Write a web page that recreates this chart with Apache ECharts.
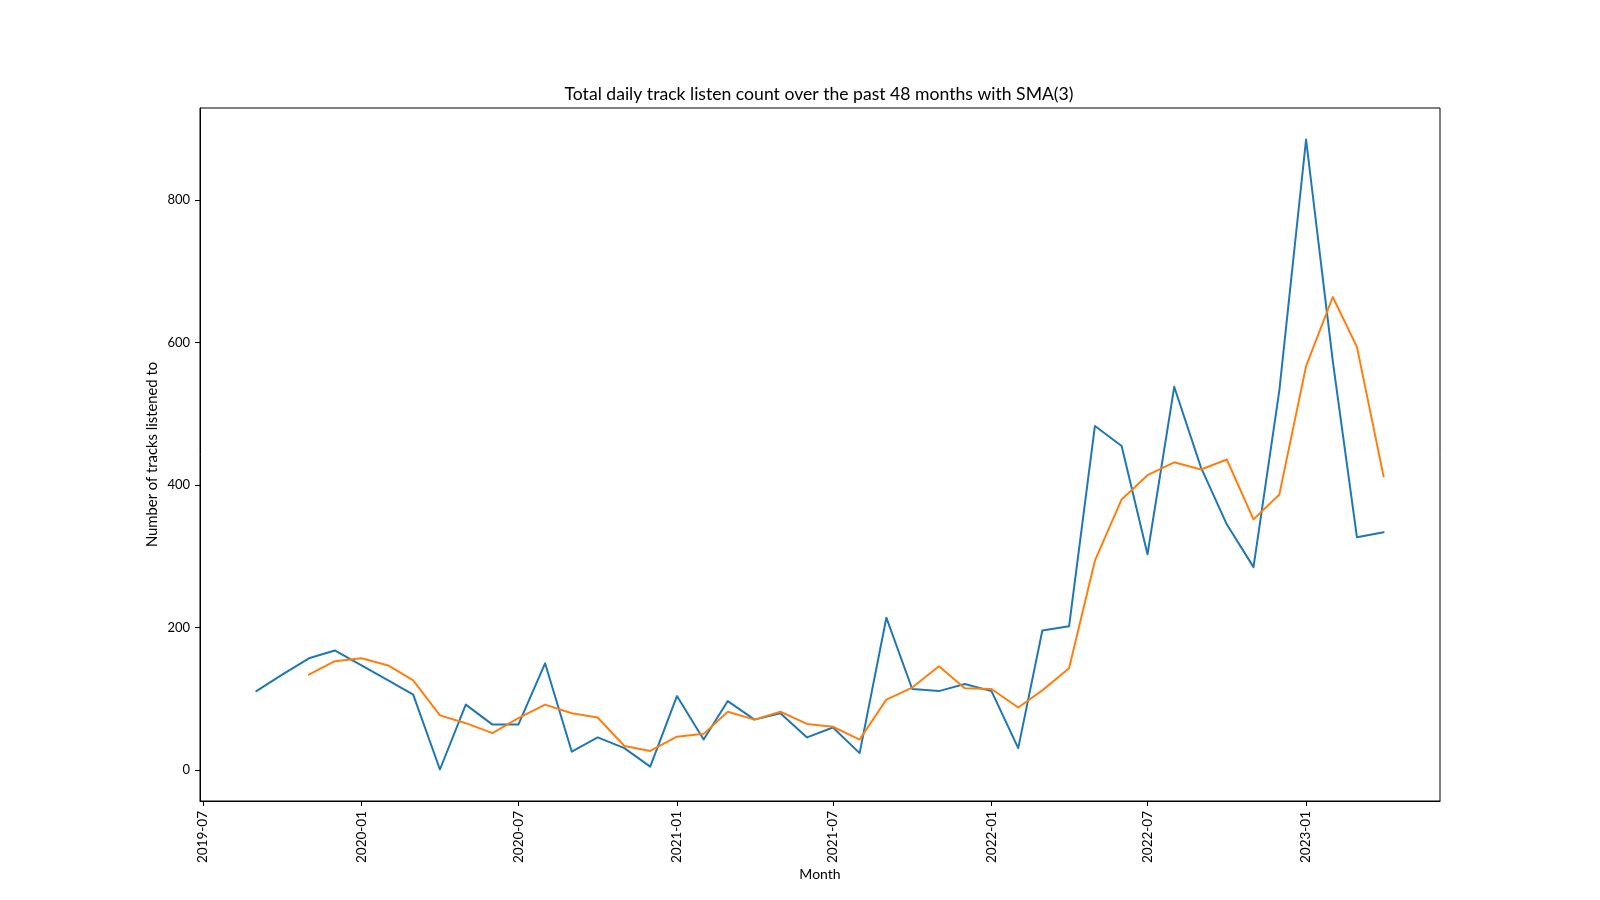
<!DOCTYPE html>
<html>
<head>
<meta charset="utf-8">
<script src="https://cdn.jsdelivr.net/npm/echarts@6/dist/echarts.min.js"></script>
<style>
  html, body { margin: 0; padding: 0; background: #ffffff; }
  #chart { width: 1600px; height: 900px; }
</style>
</head>
<body>
<div id="chart"></div>
<script>
// ---- Data ----
const months = [
  '2019-09','2019-10','2019-11','2019-12',
  '2020-01','2020-02','2020-03','2020-04','2020-05','2020-06','2020-07','2020-08','2020-09','2020-10','2020-11','2020-12',
  '2021-01','2021-02','2021-03','2021-04','2021-05','2021-06','2021-07','2021-08','2021-09','2021-10','2021-11','2021-12',
  '2022-01','2022-02','2022-03','2022-04','2022-05','2022-06','2022-07','2022-08','2022-09','2022-10','2022-11','2022-12',
  '2023-01','2023-02','2023-03','2023-04'
];
const monthlyCounts = [
  111, 134, 157, 168,
  147, 126, 106, 1, 92, 64, 64, 150, 26, 46, 31, 5,
  104, 43, 97, 71, 80, 46, 60, 24, 214, 114, 111, 121,
  111, 31, 196, 202, 483, 455, 303, 538, 425, 345, 285, 533,
  885, 574, 327, 334
];
// SMA(3) line, starting at the third month (2019-11)
const smaMonths = months.slice(2);
const smaValues = [
  134, 153,
  157, 147, 126, 77, 66, 52, 73, 92, 80, 74, 34, 27,
  47, 51, 82, 71, 82, 65, 61, 43, 99, 116, 146, 115,
  114, 88, 112, 143, 294, 380, 414, 432, 422, 436, 352, 387,
  567, 664, 594, 412
];
const xTickLabels = ['2019-07','2020-01','2020-07','2021-01','2021-07','2022-01','2022-07','2023-01'];
const yTicks = [0, 200, 400, 600, 800];

const titleText = 'Total daily track listen count over the past 48 months with SMA(3)';
const xName = 'Month';
const yName = 'Number of tracks listened to';

// ---- helpers ----
function toTs(ym) {
  const p = ym.split('-');
  return Date.UTC(+p[0], +p[1] - 1, 1);
}
function fmt(ts) {
  const d = new Date(Math.round(ts));
  const m = d.getUTCMonth() + 1;
  return d.getUTCFullYear() + '-' + (m < 10 ? '0' + m : m);
}

const blueData = months.map((m, i) => [toTs(m), monthlyCounts[i]]);
const orangeData = smaMonths.map((m, i) => [toTs(m), smaValues[i]]);
const xTickTs = xTickLabels.map(toTs);

// matplotlib-like 5% margins
const xFirst = toTs(months[0]);
const xLast = toTs(months[months.length - 1]);
const xPad = (xLast - xFirst) * 0.05;
const allVals = monthlyCounts.concat(smaValues);
const yMinD = Math.min.apply(null, allVals);
const yMaxD = Math.max.apply(null, allVals);
const yPad = (yMaxD - yMinD) * 0.05;

const FONT = 'Lato';
const chart = echarts.init(document.getElementById('chart'), null, { renderer: 'canvas' });

chart.setOption({
  animation: false,
  backgroundColor: '#ffffff',
  title: {
    text: titleText,
    left: 814,
    top: 80,
    textAlign: 'center',
    textStyle: { fontFamily: FONT, fontSize: 17.6, fontWeight: 'normal', color: '#000' }
  },
  grid: {
    left: 200, right: 160, top: 108, bottom: 99,
    containLabel: false,
    show: true,
    borderColor: '#000',
    borderWidth: 1,
    backgroundColor: 'transparent'
  },
  xAxis: {
    type: 'value',
    min: xFirst - xPad,
    max: xLast + xPad,
    scale: true,
    name: xName,
    nameLocation: 'middle',
    nameGap: 66,
    nameMoveOverlap: false,
    nameTextStyle: { fontFamily: FONT, fontSize: 14, color: '#000' },
    axisLine: { show: true, onZero: false, lineStyle: { color: '#000', width: 1 } },
    axisTick: {
      show: true, inside: false, length: 5,
      lineStyle: { color: '#000', width: 1 },
      customValues: xTickTs
    },
    axisLabel: {
      show: true,
      rotate: 90,
      margin: 10,
      fontFamily: FONT, fontSize: 13.5, color: '#000',
      customValues: xTickTs,
      formatter: function (v) { return fmt(v); }
    },
    splitLine: { show: false },
    minorTick: { show: false }
  },
  yAxis: {
    type: 'value',
    min: yMinD - yPad,
    max: yMaxD + yPad,
    scale: true,
    name: yName,
    nameLocation: 'middle',
    nameGap: 40,
    nameMoveOverlap: false,
    nameTextStyle: { fontFamily: FONT, fontSize: 14.8, color: '#000' },
    axisLine: { show: true, onZero: false, lineStyle: { color: '#000', width: 1 } },
    axisTick: {
      show: true, inside: false, length: 5,
      lineStyle: { color: '#000', width: 1 },
      customValues: yTicks
    },
    axisLabel: {
      show: true,
      margin: 10,
      fontFamily: FONT, fontSize: 13, color: '#000',
      customValues: yTicks,
      formatter: function (v) { return String(v); }
    },
    splitLine: { show: false }
  },
  series: [
    {
      name: 'Tracks',
      type: 'line',
      data: blueData,
      showSymbol: false,
      symbol: 'none',
      lineStyle: { color: '#1f77b4', width: 2, join: 'round', cap: 'round' },
      itemStyle: { color: '#1f77b4' },
      z: 2
    },
    {
      name: 'SMA(3)',
      type: 'line',
      data: orangeData,
      showSymbol: false,
      symbol: 'none',
      lineStyle: { color: '#ff7f0e', width: 2, join: 'round', cap: 'round' },
      itemStyle: { color: '#ff7f0e' },
      z: 3
    }
  ]
});
</script>
</body>
</html>
